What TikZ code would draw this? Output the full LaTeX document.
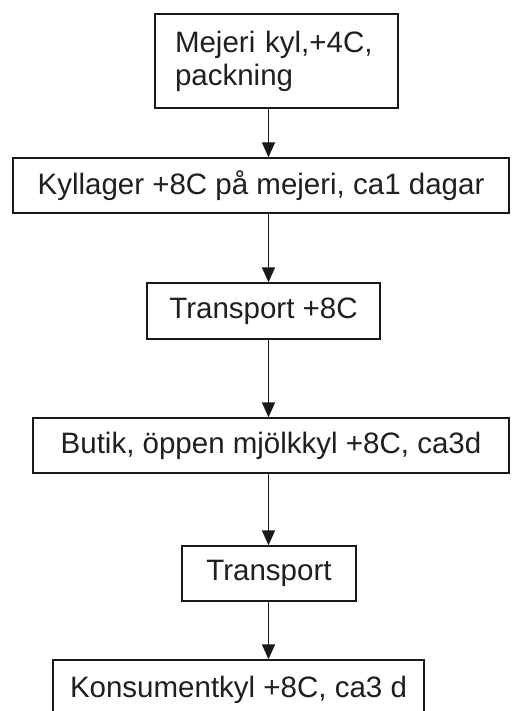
\documentclass[tikz,border=0pt]{standalone}
\usepackage{fontspec}
\setmainfont{Liberation Sans}
\usetikzlibrary{arrows.meta}
\begin{document}
\begin{tikzpicture}[x=1pt,y=-1pt,
  box/.style={draw=black!90, line width=1.4pt, inner sep=0pt, minimum height=55pt,
    font=\fontsize{29.5}{33}\selectfont, text=black!88},
  arr/.style={draw=black!90, line width=1.4pt, -{Triangle[length=15pt,width=13pt]}}]
\useasboundingbox (0,0) rectangle (511,711);
\fill[white] (0,0) rectangle (511,711);
\node[box, minimum width=243pt, minimum height=94pt, text width=203pt, align=left] (b1) at (276.5,61) {Mejeri kyl,+4C,\\packning};
\node[box, minimum width=496pt] (b2) at (261,185.5) {Kyllager +8C på mejeri, ca1 dagar};
\node[box, minimum width=233pt, minimum height=56pt] (b3) at (263.5,311) {Transport +8C};
\node[box, minimum width=476pt] (b4) at (271,445.5) {Butik, öppen mjölkkyl +8C, ca3d};
\node[box, minimum width=174pt] (b5) at (269,573.5) {Transport};
\node[box, minimum width=371pt, minimum height=60pt] (b6) at (238.5,690) {Konsumentkyl +8C, ca3 d};
\coordinate (ax) at (268.5,0);
\draw[arr] (b1.south -| ax) -- (b2.north -| ax);
\draw[arr] (b2.south -| ax) -- (b3.north -| ax);
\draw[arr] (b3.south -| ax) -- (b4.north -| ax);
\draw[arr] (b4.south -| ax) -- (b5.north -| ax);
\draw[arr] (b5.south -| ax) -- (b6.north -| ax);
\end{tikzpicture}
\end{document}
